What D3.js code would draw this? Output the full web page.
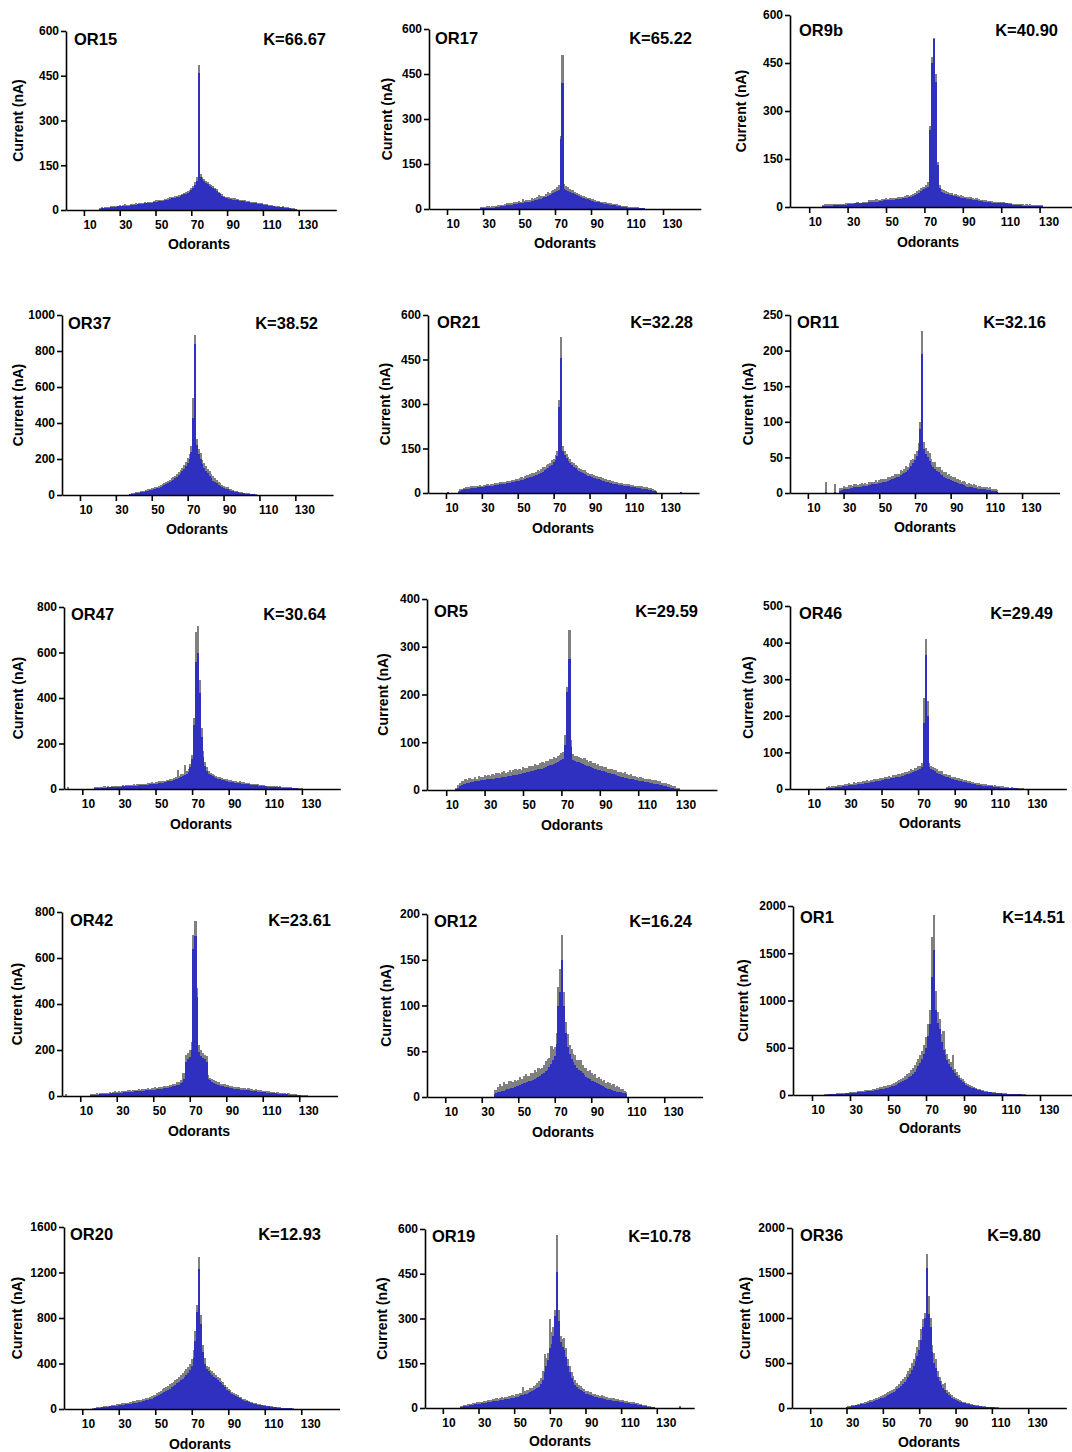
<!DOCTYPE html>
<html lang="en">
<head>
<meta charset="UTF-8">
<script src="https://d3js.org/d3.v7.min.js"></script>
<title>Odorant tuning curves</title>
<style>
  body { margin: 0; background: #fff; }
  svg text { font-family: "Liberation Sans", Arial, sans-serif; font-weight: bold; fill: #000; }
</style>
</head>
<body>
<div id="my_dataviz"></div>
<script>

// receptors, ordered by K
var receptors = ["OR15","OR17","OR9b","OR37","OR21","OR11","OR47","OR5","OR46","OR42","OR12","OR1","OR20","OR19","OR36"];
var kValues = ["66.67","65.22","40.90","38.52","32.28","32.16","30.64","29.59","29.49","23.61","16.24","14.51","12.93","10.78","9.80"];
var yMax  = [600,600,600,1000,600,250,800,400,500,800,200,2000,1600,600,2000];
var yStep = [150,150,150,200,150,50,200,100,100,200,50,500,400,150,500];
var firstOdorant = [19,29,17,38,11,20,2,15,20,2,37,17,16,20,30];
var xTicks = [10,30,50,70,90,110,130];

// mean current per odorant (blue) and its error (grey), from firstOdorant on
var meanOR15 = [5,6,6,7,7,8,9,10,10,11, 12,12,13,13,14,15,15,16,17,17, 18,19,19,20,21,22,22,23,24,25,
  26,27,28,29,30,31,32,33,35,37, 39,40,41,42,44,46,49,52,55,58, 62,67,74,84,98, 458, 110,104,97,91,86,
  82,78,74,70,64,58,52,47,43,41, 39,38,37,35,34,33,32,31,30,29, 28,27,26,25,24,23,22,21,20,19,
  18,17,16,15,14,13,12,11,11,10, 9,9,8,7,7,6,5,4,3];
var semOR15 = [2,3,2,4,3,2,3,4,3,2, 3,4,2,3,5,3,2,4,3,3, 4,2,3,5,3,4,2,3,4,3,
  3,5,4,3,2,4,5,3,4,6, 4,3,5,4,6,5,4,6,5,7, 6,8,7,9,12, 27, 10,8,7,6,8,
  6,5,7,5,6,4,5,6,4,3, 5,4,3,4,5,3,4,3,4,3, 4,3,5,3,4,3,4,3,3,4,
  3,4,3,2,3,4,3,2,3,3, 2,3,2,3,2,2,3,2,2];

var meanOR17 = [2,3,3,3,4,4,5,5,6,6, 8,9,10,11,12,13,14,15,16,17, 18,19,20,21,22,23,24,25,27,28,
  30,31,33,35,37,39,41,44,47,50, 53,56,59,62,235, 420, 68,64,61,58,55,
  52,49,46,43,40,38,36,34,32,30, 28,26,25,23,22,20,19,18,17,16, 15,14,13,12,11,10,9,8,7,6,
  5,5,4,4,4,3,3,3,2,2];
var semOR17 = [4,5,4,6,5,4,6,5,4,8, 5,6,4,5,7,6,5,6,8,5, 6,7,5,12,6,7,5,6,10,6,
  7,8,15,7,8,6,9,12,8,9, 10,12,14,18,10, 95, 16,14,12,10,9,
  10,8,9,7,8,6,7,5,6,7, 5,6,4,5,6,4,5,4,5,4, 4,5,3,4,5,3,4,3,4,3,
  4,3,4,3,3,4,3,2,3,2];

var meanOR9b = [3,3,4,4,4,4,5,5,5,5, 5,6,6,9,10,10,10,11,11,11, 11,12,12,12,15,16,16,17,17,17,
  18,20,21,21,22,22,23,23,24,25, 26,26,27,28,29,30,31,33,36,40, 45,50,52,55,58,62,
  240,450,525,390,130, 58,48,44,42,40,
  38,36,34,33,32,30,29,28,27,26, 25,24,23,22,21,20,19,18,17,16, 15,15,14,14,13,13,12,12,12,11,
  11,10,10,6,5,5,5,5,4,4, 4,4,4,4,3,3,3,3,3];
var semOR9b = [4,5,4,4,5,4,4,5,4,4, 5,4,5,3,3,4,3,3,4,3, 3,4,3,4,7,6,7,6,7,6,
  5,4,5,6,4,5,6,4,5,6, 5,6,5,6,7,5,8,7,8,9, 8,9,10,8,12,15,
  12,20,3,25,10, 12,8,9,7,8,
  6,8,5,7,6,5,7,6,5,6, 5,6,5,4,6,5,4,5,4,5, 4,3,4,3,4,3,4,3,4,3,
  3,4,3,3,4,3,4,3,4,3, 4,3,4,3,4,3,4,3,4];

var meanOR37 = [4,6,8,9,11,12,14,16,18,20, 23,26,28,31,34,37,41,45,50,55,
  60,66,72,78,85,93,101,110,120,132, 145,160,178,200,240, 430, 840, 280,230,200,170,150,
  135,120,105,92,80,72,64,56,50,44, 39,35,31,27,24,21,18,16,14,12, 10,9,8,7,6,5,4,3,2];
var semOR37 = [3,5,4,6,5,4,6,5,7,6, 8,6,9,7,8,10,9,11,10,12,
  11,13,12,14,13,15,14,16,18,17, 20,22,25,28,35, 110, 50, 30,28,35,25,30,
  28,24,30,22,25,20,22,18,16,14, 12,10,11,9,8,7,6,5,5,4, 4,3,4,3,3,2,2,2,2];

var meanOR21 = [2,0,0,0,0,0, 5,8,10,12,13,14,15,16,17,18, 18,19,19,20,21,22,22,23,24,25,
  26,27,28,29,30,31,32,33,34,35, 36,38,39,40,42,43,45,47,49,51, 53,55,58,60,62,65,68,72,76,80,
  85,90,96,103,112,125, 290, 455, 140,128,118,109,101,
  95,89,84,79,75,71,67,64,61,58, 56,54,52,50,48,46,44,42,40,38, 36,35,33,32,30,29,28,27,26,25,
  24,23,22,21,20,19,18,17,16,15, 14,13,12,11,10,8,6,4, 0,0,0,0,0,0,0,0,0,0,0,0,0,2];
var semOR21 = [3,0,0,0,0,0, 3,4,5,4,6,5,4,6,5,4, 6,5,7,5,6,4,7,5,6,5,
  7,6,5,8,6,7,5,8,6,7, 8,6,9,7,8,10,7,9,11,8, 10,12,9,11,14,10,12,15,11,13,
  14,12,16,13,15,18, 25, 70, 20,15,14,12,13,
  11,12,10,13,9,11,10,12,9,10, 8,10,9,7,9,8,10,7,8,9, 7,8,6,9,7,8,6,7,8,6,
  7,6,8,5,7,6,7,5,6,7, 5,6,7,5,6,5,4,4, 0,0,0,0,0,0,0,0,0,0,0,0,0,3];

var meanOR11 = [2,0,0,0,0,2,0,0, 3,4,5,5,6,6,7,7,8,8, 8,9,9,10,10,10,11,11,12,12,
  13,13,14,14,15,15,16,17,18,19, 20,21,22,23,25,26,28,30,32,35, 38,42,46,52,60, 90, 195, 62,55,50,45,40,
  37,34,31,29,27,25,23,21,20,19, 18,17,16,15,14,13,12,11,10,9, 9,8,8,7,7,6,6,5,5,5, 4,4,4,3,3,3,2];
var semOR11 = [14,0,0,0,0,11,0,0, 4,3,5,4,3,5,4,3,4,5, 3,4,5,3,4,3,5,4,3,4,
  5,3,4,6,4,5,3,6,4,5, 4,6,5,4,7,5,6,8,5,7, 8,6,9,7,10, 10, 33, 10,8,9,11,8,
  7,9,6,8,10,7,6,8,5,7, 6,5,7,4,6,5,4,6,5,4, 5,4,3,5,4,3,4,3,4,3, 4,3,4,3,3,2,2];

var meanOR47 = [2,0,0,0,0,0,0,0,0,0,0,0,0,0,0, 3,4,4,5,5,6,6,7,7,8, 8,9,9,10,10,11,11,12,12,13,
  13,14,14,15,16,16,17,18,18,19, 20,21,22,23,24,25,26,28,29,31, 33,35,37,40,42,45,48,52,56,60,
  66,75,95,130,280, 560, 600, 420, 230,140,100,80,68,
  60,55,51,48,45,42,40,38,36,34, 32,30,29,28,27,26,25,24,23,22, 21,20,19,18,17,16,15,14,13,12,
  11,10,10,9,9,8,8,7,7,6, 6,5,5,4,4,3,3,3,2,2,2];
var semOR47 = [5,0,0,0,0,0,0,0,0,0,0,0,0,0,0, 4,3,5,4,3,5,4,6,3,5, 4,6,3,5,4,7,3,5,6,4,
  5,7,4,6,5,8,4,6,5,7, 6,8,5,7,6,9,7,8,6,10, 8,11,7,9,10,40,8,12,10,45,
  12,14,16,20,30, 130, 115, 60, 40,25,18,15,12,
  10,12,9,11,8,10,9,7,10,8, 7,9,6,8,7,5,8,6,7,5, 6,7,5,6,4,6,5,4,6,5,
  4,5,3,4,5,3,4,3,4,3, 3,4,3,3,4,3,2,3,2,2,2];

var meanOR5 = [2,5,8,10,12,13,14,15,16,17, 18,18,19,20,20,21,22,22,23,24, 24,25,26,26,27,28,28,29,30,30,
  31,32,32,33,34,35,36,37,38,39, 40,41,42,43,44,45,47,48,50,52, 53,55,57,59,61,63,65,95,
  205, 275, 90,62,60,59,58,
  56,54,53,51,50,48,47,45,44,42, 41,40,39,37,36,35,34,33,32,30, 29,28,27,26,25,24,23,22,21,20,
  19,19,18,17,16,16,15,14,13,13, 12,11,10,9,8,7,6,5,4,3,2,2];
var semOR5 = [3,5,6,8,7,9,6,10,8,7, 9,6,10,8,7,11,8,9,7,10, 8,11,9,7,10,12,8,9,11,8,
  10,12,9,11,8,13,10,9,12,11, 10,13,11,9,12,14,10,12,11,13, 12,14,11,13,12,15,14,20,
  10, 60, 15,14,12,13,11,
  12,10,13,11,9,12,10,11,9,12, 10,11,9,12,8,10,11,9,10,8, 9,10,8,11,9,8,10,7,9,8,
  7,9,8,6,8,7,9,6,7,8, 6,7,5,6,7,5,6,5,4,5,3,2];

var meanOR46 = [2,3,3,4,4,5,5,6,6,7, 8,9,10,10,11,12,12,13,14,14, 15,16,17,17,18,19,20,21,22,23,
  24,25,26,27,28,29,30,31,32,33, 34,35,36,38,40,42,44,46,48,50, 52,55,60, 180, 365, 200, 60,55,51,48,
  45,42,40,38,36,34,32,30,28,26, 25,24,22,21,20,19,18,17,16,15, 14,13,12,11,10,9,9,8,8,7,
  7,6,6,5,5,4,4,3,3,3, 2,2,2,2,2,1,1,1];
var semOR46 = [3,4,3,5,4,3,5,4,6,3, 5,4,6,5,4,7,5,6,4,5, 6,5,7,4,6,5,8,6,5,7,
  6,5,8,6,7,5,9,6,7,8, 6,8,7,9,6,8,10,7,9,8, 10,9,12, 70, 45, 40, 10,9,8,10,
  9,7,8,10,6,8,7,9,6,7, 8,6,7,5,8,6,7,5,6,5, 6,4,5,6,4,5,4,5,3,4,
  4,3,4,3,3,4,3,3,2,3, 2,3,2,2,2,2,2,1];

var meanOR42 = [2,0,0,0,0,0,0,0,0,0,0,0,0,0, 3,4,5,6,6,7,8,8,9,10, 10,11,12,12,13,14,14,15,16,16,
  17,18,18,19,20,20,21,22,22,23, 24,25,25,26,27,28,29,30,31,32, 33,35,36,38,40,42,44,47,50,55,
  62,75,150,160,170, 200, 640, 695, 430, 190,175,165,160,150,
  75,68,62,57,53,50,47,45,43,41, 39,37,35,34,32,31,30,29,28,27, 26,25,24,23,22,21,20,19,18,17,
  16,16,15,14,13,13,12,11,10,10, 9,8,8,7,6,6,5,4,4,3, 3,2,2,2,1];
var semOR42 = [6,0,0,0,0,0,0,0,0,0,0,0,0,0, 4,5,3,6,4,5,7,4,6,5, 7,4,6,8,5,7,4,8,6,5,
  8,6,5,9,7,6,8,5,9,7, 6,9,7,8,6,10,7,9,8,6, 10,8,7,11,9,10,8,12,10,15,
  40,25,30,25,28, 35, 60, 65, 40, 30,25,22,20,25,
  15,12,14,11,13,10,12,9,11,10, 9,11,8,10,7,9,8,10,7,9, 8,7,9,6,8,7,9,6,7,8,
  6,7,5,8,6,5,7,4,6,5, 4,5,6,3,5,4,3,4,3,3, 2,3,2,2,2];

var meanOR12 = [3,4,5,6,7,7,8,9,9,10, 10,11,12,12,13,14,15,15,16,17, 18,19,20,21,22,23,25,26,28,30,
  33,36,40,45,58, 100, 115, 150, 100, 70,55,47,42,
  38,35,32,30,28,26,24,22,21,20, 18,17,16,15,14,13,12,11,10,9, 9,8,7,7,6,6,5,4,4,3];
var semOR12 = [5,4,6,8,5,9,6,5,8,7, 6,8,5,7,9,6,8,10,7,6, 8,7,9,6,10,8,7,9,11,12,
  10,20,12,10,12, 20, 25, 27, 15, 12,14,10,11,
  9,11,8,10,12,9,8,10,7,9, 8,7,9,6,8,7,6,8,5,7, 6,5,7,4,6,5,4,5,3,3];

var meanOR1 = [3,5,6,7,8,9,10,11,12,13, 15,16,18,20,22,24,26,28,30,32, 34,36,38,40,43,46,49,52,56,60,
  64,68,73,78,84,90,97,105,115,125, 135,145,158,172,188,205,225,248,275,305,
  340,380,430,500,620, 750, 1250, 1530, 900, 760,700,560,480,
  420,370,330,295,260,230,200,175,155,138, 122,108,96,86,77,69,62,56,50,45,
  41,37,33,30,27,25,23,21,19,17, 15,14,13,12,11,10,9,8,7,6, 6,5,5,4,4,3,3,2,2];
var semOR1 = [3,4,5,4,6,5,7,6,8,7, 8,9,7,10,9,11,10,12,11,13, 12,14,13,15,14,16,15,17,18,20,
  19,22,21,24,23,26,28,30,32,35, 38,40,44,48,50,55,60,65,70,80,
  85,90,100,110,130, 150, 420, 380, 200, 120,100,90,200,
  70,60,55,50,160,45,40,35,30,28, 25,22,20,18,16,14,13,12,11,10,
  9,8,8,7,6,6,5,5,4,4, 4,3,3,3,3,2,2,2,2,2, 2,2,1,1,1,1,1,1,1];

var meanOR20 = [4,6,8,10,12,14,16,18,20,22, 24,26,28,30,32,34,36,38,40,42, 45,48,51,54,57,60,64,68,72,76,
  80,85,90,96,102,110,120,130,140,150, 160,170,180,190,200,212,225,238,252,268,
  285,302,320,340,380,450, 600, 850, 1230, 750, 500,400,350,330,
  315,300,285,270,255,240,225,210,190,170, 155,145,135,125,115,105,96,88,80,73,
  67,61,56,51,47,43,39,36,33,30, 27,25,22,20,18,16,14,12,11,10, 9,8,7,6,5,4,3,3,2];
var semOR20 = [4,5,6,5,7,6,8,7,9,8, 10,9,11,10,12,11,13,12,14,13, 15,14,16,15,18,17,19,18,20,22,
  21,24,23,26,25,28,27,30,32,31, 34,33,36,35,38,40,39,42,44,45,
  48,50,52,55,60,70, 90, 60, 105, 80, 60,50,30,35,
  30,35,28,32,25,30,24,28,22,20, 18,20,16,18,14,16,12,14,11,12,
  10,11,9,10,8,9,7,8,6,7, 6,5,6,4,5,4,4,3,3,3, 3,2,2,2,2,2,1,1,1];

var meanOR19 = [3,5,6,7,8,9,10,11,12,13, 14,15,16,17,18,19,20,21,22,23, 24,25,26,27,28,29,30,31,32,33,
  34,36,38,40,42,44,46,48,50,53, 56,59,63,67,72,80,95,120,140,160,
  200,215,240, 310, 455, 290, 220,205,195,170,
  140,120,100,88,78,70,64,60,56,52, 48,46,44,42,40,38,36,34,33,32, 30,29,28,27,26,25,24,23,22,21,
  20,19,18,17,16,15,14,13,12,11, 10,9,8,7,6,5,4,3,2, 0,0,0,0,0,0,0,0,0,0,0,0,0,0,2];
var semOR19 = [4,3,5,4,6,5,4,6,5,7, 5,6,4,7,5,8,6,5,7,6, 8,6,7,9,6,8,7,10,8,9,
  7,10,8,11,9,25,10,14,11,13, 12,15,13,16,18,20,30,60,28,25,
  100,40,30, 20, 125, 40, 20,25,40,30,
  25,22,20,18,16,15,14,13,12,11, 10,12,9,11,8,10,9,11,8,10, 9,8,10,7,9,8,10,7,8,6,
  7,8,6,7,5,6,5,6,4,5, 4,4,3,3,3,2,2,2,2, 0,0,0,0,0,0,0,0,0,0,0,0,0,0,4];

var meanOR36 = [8,12,16,20,24,28,32,36,40,45, 50,55,60,66,72,78,85,92,100,108,
  116,125,135,145,155,165,178,192,208,225, 245,265,290,315,345,380,420,470,520,580,
  650,760,900, 1000, 1560, 1050, 900,620,500,450,
  350,300,260,225,195,170,150,130,115,100, 90,80,72,65,58,52,47,42,38,34,
  30,27,24,21,18,16,14,12,10,8, 7,6,5,4,3];
var semOR36 = [3,5,6,8,7,9,10,12,11,14, 13,15,16,18,17,20,22,21,24,26,
  25,28,30,32,35,34,38,40,42,45, 50,55,58,62,65,70,75,80,90,100,
  110,120,90, 60, 150, 200, 100,80,110,90,
  60,50,45,40,80,35,30,28,25,22, 20,18,16,15,14,12,11,10,9,8,
  7,7,6,5,5,4,4,3,3,3, 2,2,2,2,2];

var means = [meanOR15,meanOR17,meanOR9b,meanOR37,meanOR21,meanOR11,meanOR47,meanOR5,
             meanOR46,meanOR42,meanOR12,meanOR1,meanOR20,meanOR19,meanOR36];
var sems = [semOR15,semOR17,semOR9b,semOR37,semOR21,semOR11,semOR47,semOR5,
            semOR46,semOR42,semOR12,semOR1,semOR20,semOR19,semOR36];

// where each panel sits on the page
var axisX        = [66,429,790, 62,428,790, 64,427,790, 62,427,793, 64,425,792];
var pxPerOdorant = [1.79,1.80,1.92, 1.795,1.795,1.785, 1.83,1.92,1.83, 1.825,1.825,1.9, 1.825,1.783,1.817];
var yTop   = [31,29,15, 315,315,315, 607,599,606, 912,914,906, 1227,1229,1228];
var yZero  = [210,209,207, 495,493,493, 789,790,789, 1096,1097,1095, 1409,1408,1408];
var titleX = [74,435,799, 68,437,797, 71,434,799, 70,434,800, 70,432,800];
var titleY = [39,38,30, 323,322,322, 614,611,613, 920,921,917, 1234,1236,1235];
var kRight = [326,692,1058, 318,693,1046, 326,698,1053, 331,692,1065, 321,691,1041];
var yLabelX = [18,387,741, 18,385,748, 18,383,748, 17,386,743, 17,382,745];
var xLabelX = [199,565,928, 197,563,925, 201,572,930, 199,563,930, 200,560,929];
var xLabelY = [244,243,242, 529,528,527, 824,825,823, 1131,1132,1128, 1444,1441,1442];

var blue = "#3030c0", grey = "#808080";

var svg = d3.select("#my_dataviz")
  .append("svg")
    .attr("width", 1072)
    .attr("height", 1452);

receptors.forEach(function(name, p) {
  var g = svg.append("g");

  var x = d3.scaleLinear()
    .domain([0, 151])
    .range([axisX[p], axisX[p] + 151 * pxPerOdorant[p]]);
  var y = d3.scaleLinear()
    .domain([0, yMax[p]])
    .range([yZero[p], yTop[p]]);

  var data = means[p].map(function(m, i) {
    return {odor: firstOdorant[p] + i, mean: m, sem: sems[p][i]};
  }).filter(function(d) { return d.mean + d.sem > 0; });

  // error part on top (grey)
  g.append("g")
    .attr("shape-rendering", "crispEdges")
    .selectAll("rect")
    .data(data)
    .enter().append("rect")
      .attr("x", function(d) { return x(d.odor - 0.5); })
      .attr("width", function(d) { return x(d.odor + 0.5) - x(d.odor - 0.5) + 0.5; })
      .attr("y", function(d) { return y(d.mean + d.sem); })
      .attr("height", function(d) { return y(d.mean) - y(d.mean + d.sem) + 0.5; })
      .attr("fill", grey);

  // mean bars (blue)
  g.append("g")
    .attr("shape-rendering", "crispEdges")
    .selectAll("rect")
    .data(data.filter(function(d) { return d.mean > 0; }))
    .enter().append("rect")
      .attr("x", function(d) { return x(d.odor - 0.5); })
      .attr("width", function(d) { return x(d.odor + 0.5) - x(d.odor - 0.5) + 0.5; })
      .attr("y", function(d) { return y(d.mean); })
      .attr("height", function(d) { return y(0) - y(d.mean); })
      .attr("fill", blue);

  // axes
  var yAxis = g.append("g")
    .attr("transform", "translate(" + axisX[p] + ",0)")
    .call(d3.axisLeft(y)
      .tickValues(d3.range(0, yMax[p] + 1, yStep[p]))
      .tickFormat(d3.format("d"))
      .tickSize(5).tickSizeOuter(0).tickPadding(2));
  yAxis.selectAll("text").style("font-size", "12px");

  var xAxis = g.append("g")
    .attr("transform", "translate(0," + yZero[p] + ")")
    .call(d3.axisBottom(x).tickValues(xTicks).tickSize(6).tickSizeOuter(0).tickPadding(4));
  xAxis.selectAll("text")
    .style("font-size", "12px")
    .attr("text-anchor", "start")
    .attr("x", -1);

  g.selectAll(".domain, .tick line")
    .attr("stroke", "#000")
    .attr("stroke-width", 1.6);

  // labels
  g.append("text")
    .attr("x", titleX[p]).attr("y", titleY[p] + 6)
    .style("font-size", "16.5px")
    .text(name);
  g.append("text")
    .attr("x", kRight[p]).attr("y", titleY[p] + 6)
    .attr("text-anchor", "end")
    .style("font-size", "16.5px")
    .text("K=" + kValues[p]);
  g.append("text")
    .attr("transform", "translate(" + yLabelX[p] + "," + (yTop[p] + yZero[p]) / 2 + ") rotate(-90)")
    .attr("text-anchor", "middle")
    .attr("dy", "0.35em")
    .style("font-size", "14px")
    .text("Current (nA)");
  g.append("text")
    .attr("x", xLabelX[p]).attr("y", xLabelY[p] + 5)
    .attr("text-anchor", "middle")
    .style("font-size", "14px")
    .text("Odorants");
});

</script>
</body>
</html>
